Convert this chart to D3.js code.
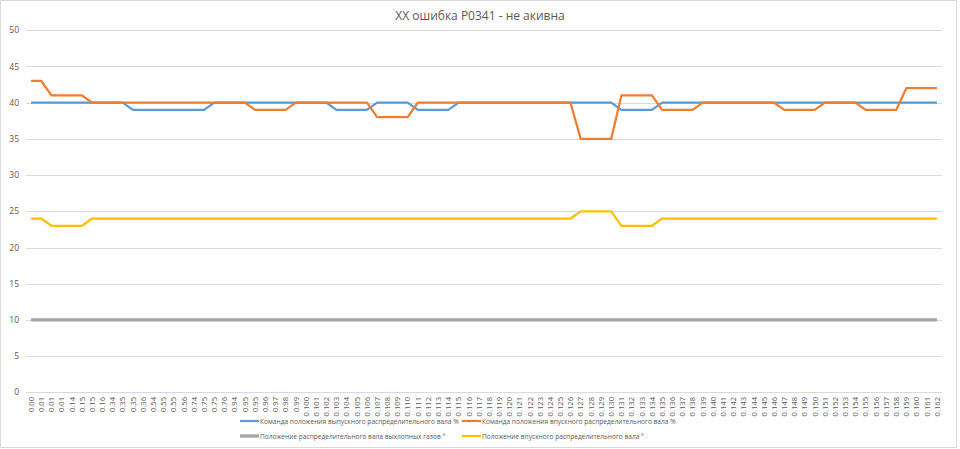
<!DOCTYPE html>
<html>
<head>
<meta charset="utf-8">
<script src="https://cdn.jsdelivr.net/npm/d3@7"></script>
<style>
  body { margin: 0; background: #fff; }
  text { font-family: "Open Sans", "Noto Sans", sans-serif; fill: #595959; }
</style>
</head>
<body>
<svg width="960" height="449"></svg>
<script>
const xLabels = [
  "0.00","0.01","0.01","0.01","0.14","0.15","0.15","0.16","0.34","0.35","0.35","0.36",
  "0.54","0.55","0.55","0.56","0.74","0.75","0.75","0.76","0.94","0.95","0.95","0.96",
  "0.97","0.98","0.99","0.100","0.101","0.102","0.103","0.104","0.105","0.106","0.107",
  "0.108","0.109","0.110","0.111","0.112","0.113","0.114","0.115","0.116","0.117","0.118",
  "0.119","0.120","0.121","0.122","0.123","0.124","0.125","0.126","0.127","0.128","0.129",
  "0.130","0.131","0.132","0.133","0.134","0.135","0.136","0.137","0.138","0.139","0.140",
  "0.141","0.142","0.143","0.144","0.145","0.146","0.147","0.148","0.149","0.150","0.151",
  "0.152","0.153","0.154","0.155","0.156","0.157","0.158","0.159","0.160","0.161","0.162"
];

// Команда положения выпускного распределительного вала %
const exhaustCmd = [
  40,40,40,40,40,40,40,40,40,40,39,39,39,39,39,39,39,39,40,40,40,40,40,40,40,40,40,40,40,40,
  39,39,39,39,40,40,40,40,39,39,39,39,40,40,40,40,40,40,40,40,40,40,40,40,40,40,40,40,39,39,
  39,39,40,40,40,40,40,40,40,40,40,40,40,40,40,40,40,40,40,40,40,40,40,40,40,40,40,40,40,40
];

// Команда положения впускного распределительного вала %
const intakeCmd = [
  43,43,41,41,41,41,40,40,40,40,40,40,40,40,40,40,40,40,40,40,40,40,39,39,39,39,40,40,40,40,
  40,40,40,40,38,38,38,38,40,40,40,40,40,40,40,40,40,40,40,40,40,40,40,40,35,35,35,35,41,41,
  41,41,39,39,39,39,40,40,40,40,40,40,40,40,39,39,39,39,40,40,40,40,39,39,39,39,42,42,42,42
];

// Положение распределительного вала выхлопных газов °
const exhaustPos = [
  10,10,10,10,10,10,10,10,10,10,10,10,10,10,10,10,10,10,10,10,10,10,10,10,10,10,10,10,10,10,
  10,10,10,10,10,10,10,10,10,10,10,10,10,10,10,10,10,10,10,10,10,10,10,10,10,10,10,10,10,10,
  10,10,10,10,10,10,10,10,10,10,10,10,10,10,10,10,10,10,10,10,10,10,10,10,10,10,10,10,10,10
];

// Положение впускного распределительного вала °
const intakePos = [
  24,24,23,23,23,23,24,24,24,24,24,24,24,24,24,24,24,24,24,24,24,24,24,24,24,24,24,24,24,24,
  24,24,24,24,24,24,24,24,24,24,24,24,24,24,24,24,24,24,24,24,24,24,24,24,25,25,25,25,23,23,
  23,23,24,24,24,24,24,24,24,24,24,24,24,24,24,24,24,24,24,24,24,24,24,24,24,24,24,24,24,24
];

const yTicks = [0, 5, 10, 15, 20, 25, 30, 35, 40, 45, 50];

const series = [
  { name: "Команда положения выпускного распределительного вала %", values: exhaustCmd, color: "#5B9BD5", w: 2.25 },
  { name: "Команда положения впускного распределительного вала %", values: intakeCmd, color: "#ED7D31", w: 2.25 },
  { name: "Положение распределительного вала выхлопных газов °", values: exhaustPos, color: "#A5A5A5", w: 3.25 },
  { name: "Положение впускного распределительного вала °", values: intakePos, color: "#FFC000", w: 2.25 }
];

const svg = d3.select("svg");

svg.append("rect")
    .attr("x", 0.5).attr("y", 0.5)
    .attr("width", 956).attr("height", 447)
    .attr("fill", "#fff")
    .attr("stroke", "#d9d9d9");

const x = d3.scalePoint()
    .domain(d3.range(xLabels.length))
    .range([26, 942])
    .padding(0.5);

const y = d3.scaleLinear()
    .domain([0, 50])
    .range([392.3, 30.3]);

// grid
svg.append("g")
  .selectAll("line")
  .data(yTicks)
  .enter()
  .append("line")
    .attr("x1", 26).attr("x2", 942)
    .attr("y1", d => Math.round(y(d)) + 0.5)
    .attr("y2", d => Math.round(y(d)) + 0.5)
    .attr("stroke", "#d9d9d9")
    .attr("stroke-width", 1);

svg.append("g")
  .selectAll("text")
  .data(yTicks)
  .enter()
  .append("text")
    .attr("x", 19)
    .attr("y", d => y(d) + 3)
    .attr("text-anchor", "end")
    .style("font-size", "8.5px")
    .text(d => d);

// x labels
svg.append("g")
  .selectAll("text")
  .data(xLabels)
  .enter()
  .append("text")
    .attr("transform", (d, i) => `translate(${x(i) + 2.8}, 397) rotate(-90)`)
    .attr("text-anchor", "end")
    .style("font-size", "7.6px")
    .text(d => d);

const line = d3.line()
    .x((d, i) => x(i))
    .y(d => y(d));

series.forEach(s => {
  svg.append("path")
      .datum(s.values)
      .attr("d", line)
      .attr("fill", "none")
      .attr("stroke", s.color)
      .attr("stroke-width", s.w)
      .attr("stroke-linejoin", "round");
});

svg.append("text")
    .attr("x", 480)
    .attr("y", 20)
    .attr("text-anchor", "middle")
    .style("font-size", "12px")
    .text("XX ошибка P0341 - не акивна");

// legend
const legendPos = [[240, 421], [462, 421], [240, 436], [462, 436]];
const legend = svg.append("g");
const legendTexts = [];
series.forEach((s, i) => {
  const [lx, ly] = legendPos[i];
  legend.append("line")
      .attr("x1", lx).attr("x2", lx + 19)
      .attr("y1", ly).attr("y2", ly)
      .attr("stroke", s.color)
      .attr("stroke-width", s.w);
  legendTexts.push(legend.append("text")
      .attr("x", lx + 20)
      .attr("y", ly + 3)
      .style("font-size", "8px")
      .text(s.name));
});
// shrink legend font so the first entry fits before the second marker
const fit = 199 / legendTexts[0].node().getComputedTextLength();
legendTexts.forEach(t => t.style("font-size", (8 * fit) + "px"));
</script>
</body>
</html>
